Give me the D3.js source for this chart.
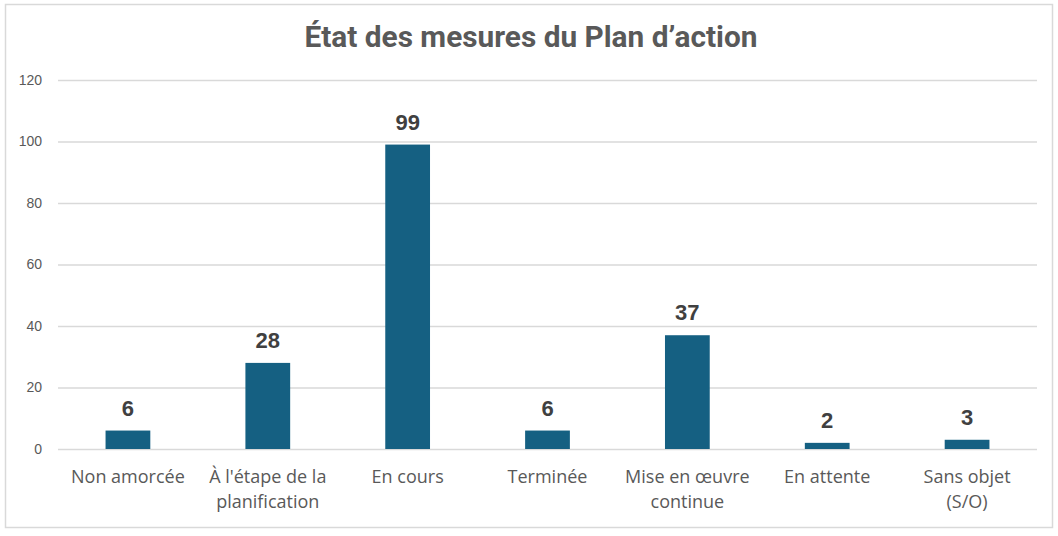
<!DOCTYPE html>
<html lang="fr">
<head>
<meta charset="UTF-8">
<title>État des mesures du Plan d’action</title>
<script src="https://d3js.org/d3.v7.min.js"></script>
<style>
    body { margin: 0; background: #fff; font-family: 'Open Sans', 'Liberation Sans', sans-serif; }
    .grid line { stroke: #d9d9d9; stroke-width: 1.3; }
    .grid .domain { display: none; }
</style>
</head>
<body>
<div id="chart"></div>
<script>
// Data
const categories = [
    "Non amorcée",
    "À l'étape de la|planification",
    "En cours",
    "Terminée",
    "Mise en œuvre|continue",
    "En attente",
    "Sans objet|(S/O)"
];
const counts = [6, 28, 99, 6, 37, 2, 3];
const yTicks = [0, 20, 40, 60, 80, 100, 120];

const W = 1058, H = 536;
const margin = { top: 80, right: 21, bottom: 87, left: 58 };
const width = W - margin.left - margin.right;
const height = H - margin.top - margin.bottom;

const svg = d3.select("#chart").append("svg")
    .attr("width", W)
    .attr("height", H);

// outer frame
svg.append("rect")
    .attr("x", 5.5).attr("y", 4.5)
    .attr("width", 1047).attr("height", 523)
    .attr("fill", "#fff")
    .attr("stroke", "#d9d9d9")
    .attr("stroke-width", 1.5);

// title (squeezed to look like a narrow face)
svg.append("text")
    .attr("x", 531)
    .attr("y", 47)
    .attr("text-anchor", "middle")
    .attr("textLength", 453)
    .attr("lengthAdjust", "spacingAndGlyphs")
    .style("font-family", "'Roboto', 'Liberation Sans', sans-serif")
    .style("font-weight", "bold")
    .style("font-size", "29px")
    .style("fill", "#595959")
    .text("État des mesures du Plan d’action");

const g = svg.append("g")
    .attr("transform", `translate(${margin.left},${margin.top})`);

const x = d3.scaleBand()
    .domain(categories)
    .range([0, width])
    .paddingInner(0.68)
    .paddingOuter(0.34);

const y = d3.scaleLinear()
    .domain([0, 120])
    .range([height, 0]);

// gridlines
g.append("g")
    .attr("class", "grid")
    .call(d3.axisLeft(y).tickValues(yTicks).tickSize(-width).tickFormat(""));

// y tick labels
g.selectAll(".ylab")
    .data(yTicks)
    .enter().append("text")
    .attr("class", "ylab")
    .attr("x", -16)
    .attr("y", d => y(d))
    .attr("dy", "0.35em")
    .attr("text-anchor", "end")
    .style("font-family", "'Liberation Sans', sans-serif")
    .style("font-size", "14px")
    .style("fill", "#595959")
    .text(d => d);

// bars
g.selectAll(".bar")
    .data(counts)
    .enter().append("rect")
    .attr("class", "bar")
    .attr("x", (d, i) => x(categories[i]))
    .attr("width", x.bandwidth())
    .attr("y", d => y(d))
    .attr("height", d => height - y(d))
    .attr("fill", "#156082");

// value labels
g.selectAll(".val")
    .data(counts)
    .enter().append("text")
    .attr("class", "val")
    .attr("x", (d, i) => x(categories[i]) + x.bandwidth() / 2)
    .attr("y", d => y(d) - 15)
    .attr("text-anchor", "middle")
    .style("font-family", "'Liberation Sans', sans-serif")
    .style("font-size", "22px")
    .style("font-weight", "bold")
    .style("fill", "#404040")
    .text(d => d);

// category labels
const cat = g.selectAll(".cat")
    .data(categories)
    .enter().append("text")
    .attr("class", "cat")
    .attr("x", d => x(d) + x.bandwidth() / 2)
    .attr("y", height + 34)
    .attr("text-anchor", "middle")
    .style("font-size", "18px")
    .style("fill", "#595959");

cat.selectAll("tspan")
    .data(d => d.split("|").map(s => ({ s, x: x(d) + x.bandwidth() / 2 })))
    .enter().append("tspan")
    .attr("x", t => t.x)
    .attr("dy", (t, i) => i === 0 ? 0 : 25)
    .text(t => t.s);
</script>
</body>
</html>
